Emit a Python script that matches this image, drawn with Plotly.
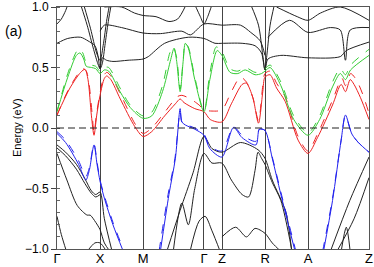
import plotly.graph_objects as go

# high-symmetry path
kpt_pos = [0, 1, 2, 3.414, 3.833, 4.833, 5.833, 7.247]
kpt_labels = ["Γ", "X", "M", "Γ", "Z", "R", "A", "Z"]

# coloured bands (solid = one calc, dashed = other)
red_k = [0, 0.3, 0.55, 0.65, 0.72, 0.8, 0.86, 0.92, 1.0, 1.1, 1.155, 1.25, 1.47, 1.81, 2.0, 2.2, 2.5, 2.75, 2.86, 2.95,
         3.2, 3.414, 3.56, 3.83, 4.05, 4.3, 4.4, 4.55, 4.68, 4.78, 4.83, 4.95, 5.1, 5.3, 5.6, 5.83, 6.05, 6.4, 6.6,
         6.7, 6.81, 6.9, 7.05, 7.247]
red_e = [0.107, 0.33, 0.46, 0.485, 0.4, 0.1, -0.06, 0.1, 0.27, 0.41, 0.43, 0.4, 0.24, 0.01, -0.07, -0.03, 0.1, 0.2,
         0.24, 0.21, 0.16, 0.135, 0.07, 0.05, 0.2, 0.36, 0.37, 0.25, 0.04, 0.3, 0.42, 0.44, 0.33, 0.22, -0.1, -0.21,
         -0.08, 0.19, 0.36, 0.3, 0.4, 0.36, 0.25, 0.07]
red_d_k = [0, 0.3, 0.6, 0.68, 0.75, 0.82, 0.86, 0.92, 1.0, 1.1, 1.16, 1.27, 1.5, 1.82, 2.0, 2.2, 2.5, 2.8, 2.9, 3.1,
           3.3, 3.414, 3.6, 3.83, 4.05, 4.26, 4.4, 4.55, 4.68, 4.78, 4.83, 4.95, 5.1, 5.3, 5.6, 5.83, 6.05, 6.4,
           6.62, 6.7, 6.82, 6.95, 7.1, 7.247]
red_d_e = [0.107, 0.34, 0.49, 0.47, 0.35, 0.1, -0.04, 0.12, 0.29, 0.44, 0.46, 0.42, 0.26, 0.03, -0.045, 0.0, 0.13,
           0.26, 0.27, 0.24, 0.19, 0.15, 0.14, 0.15, 0.3, 0.42, 0.38, 0.25, 0.06, 0.35, 0.45, 0.47, 0.37, 0.26,
           -0.07, -0.19, -0.05, 0.23, 0.41, 0.35, 0.45, 0.4, 0.28, 0.12]

green_k = [0, 0.25, 0.45, 0.535, 0.62, 0.68, 0.8, 0.9, 1.0, 1.1, 1.2, 1.465, 1.7, 2.0, 2.2, 2.45, 2.63, 2.72, 2.78,
           2.86, 2.93, 2.98, 3.05, 3.2, 3.414, 3.55, 3.72, 3.83, 4.02, 4.2, 4.37, 4.6, 4.75, 4.83, 4.95, 5.2, 5.5,
           5.83, 6.1, 6.4, 6.58, 6.7, 6.82, 7.247]
green_e = [0.135, 0.42, 0.6, 0.62, 0.57, 0.51, 0.5, 0.49, 0.45, 0.48, 0.47, 0.3, 0.17, 0.08, 0.1, 0.3, 0.55, 0.66,
           0.55, 0.3, 0.55, 0.7, 0.66, 0.4, 0.135, 0.4, 0.64, 0.6, 0.46, 0.45, 0.48, 0.44, 0.45, 0.47, 0.5, 0.35,
           0.07, -0.06, 0.07, 0.34, 0.45, 0.4, 0.48, 0.6]
green_d_k = [0, 0.25, 0.45, 0.52, 0.6, 0.68, 0.8, 0.9, 1.0, 1.1, 1.2, 1.465, 1.7, 2.0, 2.2, 2.45, 2.62, 2.7, 2.78,
             2.86, 2.93, 2.98, 3.05, 3.2, 3.414, 3.55, 3.7, 3.83, 4.02, 4.2, 4.37, 4.6, 4.75, 4.83, 4.95, 5.2, 5.5,
             5.83, 6.1, 6.4, 6.58, 6.7, 6.82, 7.247]
green_d_e = [0.135, 0.45, 0.63, 0.655, 0.62, 0.54, 0.52, 0.51, 0.47, 0.5, 0.5, 0.33, 0.19, 0.1, 0.13, 0.35, 0.62,
             0.67, 0.58, 0.32, 0.56, 0.7, 0.67, 0.42, 0.14, 0.45, 0.67, 0.63, 0.49, 0.47, 0.5, 0.46, 0.47, 0.49,
             0.52, 0.38, 0.1, -0.04, 0.1, 0.38, 0.49, 0.44, 0.52, 0.65]

blue_k = [0, 0.2, 0.5, 0.67, 0.75, 0.86, 0.93, 1.0, 1.1, 1.3, 1.54, None, 2.4, 2.6, 2.75, 2.86, 2.9, 2.98, 3.2,
          3.414, 3.55, 3.83, 4.1, 4.3, 4.62, 4.7, 4.83, 5.0, 5.2, 5.53, None, 6.19, 6.4, 6.6, 6.7, 6.85, 7.0, 7.247]
blue_e = [-0.045, -0.12, -0.3, -0.43, -0.35, -0.14, -0.3, -0.44, -0.58, -0.8, -1.02, None, -1.02, -0.55, -0.25,
          0.16, 0.05, 0.025, -0.01, -0.06, -0.17, -0.24, 0.005, -0.08, -0.14, -0.01, -0.02, -0.25, -0.55, -1.02,
          None, -1.02, -0.6, -0.1, 0.107, -0.05, -0.12, -0.2]
blue_d_k = [0, 0.2, 0.5, 0.67, 0.75, 0.86, 0.93, 1.0, 1.1, 1.3, 1.56, None, 2.37, 2.58, 2.74, 2.86, 2.9, 2.98, 3.2,
            3.414, 3.55, 3.83, 4.1, 4.3, 4.62, 4.7, 4.83, 5.0, 5.2, 5.55, None, 6.17, 6.4, 6.6, 6.7, 6.85, 7.0, 7.247]
blue_d_e = [-0.03, -0.1, -0.27, -0.4, -0.33, -0.13, -0.28, -0.43, -0.56, -0.78, -1.02, None, -1.02, -0.55, -0.25,
            0.14, 0.05, 0.03, 0.0, -0.05, -0.15, -0.19, 0.01, -0.06, -0.11, -0.01, -0.02, -0.24, -0.53, -1.02,
            None, -1.02, -0.58, -0.1, 0.1, -0.05, -0.12, -0.2]

# black bands
blk_a_k = [0, 0.1, 0.2, 0.28]
blk_a_e = [0.86, 0.9, 0.97, 1.05]
blk_b_k = [0, 0.25, 0.55, 0.72, 0.88, 0.95, 1.0, 1.05, 1.15, 1.3, 1.65, 2.0, 2.12, 2.5, 3.05, 3.414, 3.67, 3.83,
           4.3, 4.6, 4.75, 4.83, 4.9, 5.2, 5.83, 6.58, 6.72, 7.247]
blk_b_e = [0.7, 0.74, 0.75, 0.72, 0.68, 0.6, 0.49, 0.58, 0.56, 0.55, 0.56, 0.57, 0.59, 0.7, 0.75, 0.74, 0.7, 0.7,
           0.7, 0.68, 0.62, 0.48, 0.57, 0.6, 0.58, 0.59, 0.64, 0.71]
blk_c_k = [0.55, 0.7, 0.85, 0.95, 1.0, 1.05, 1.12, 1.2, 1.26]
blk_c_e = [1.02, 0.85, 0.65, 0.53, 0.49, 0.53, 0.7, 0.9, 1.02]
blk_d_k = [0.62, 0.78, 0.92, 1.0, 1.08, 1.15, 1.22]
blk_d_e = [1.02, 0.82, 0.62, 0.56, 0.7, 0.88, 1.02]
blk_e_k = [1.0, 1.1, 1.5, 2.0, 2.4, 2.9, 3.1, 3.414, 3.83, 4.26, 4.5, 4.72, 4.83]
blk_e_e = [0.8, 0.85, 0.83, 0.785, 0.78, 0.8, 0.77, 0.86, 0.85, 0.85, 0.79, 0.72, 0.6]
blk_f_k = [1.1, 1.5, 1.8, 2.0, 2.3, 2.6, 2.8, 3.0]
blk_f_e = [1.0, 1.0, 0.95, 0.93, 0.92, 0.88, 0.9, 1.02]
blk_g_k = [3.2, 3.33, 3.414, 3.5, 3.6]
blk_g_e = [1.02, 0.92, 0.86, 0.92, 1.02]
blk_h_k = [4.5, 4.68, 4.78, 4.83, 4.88, 4.95, 5.05]
blk_h_e = [1.02, 0.85, 0.6, 0.48, 0.62, 0.85, 1.02]
blk_i_k = [4.9, 5.4, 5.83, 6.35, 6.58, 6.7, 6.81, 7.247]
blk_i_e = [0.75, 0.89, 0.79, 0.83, 0.81, 0.56, 0.81, 0.83]
blk_j_k = [5.1, 5.58, 5.83, 6.12, 6.58, 7.247]
blk_j_e = [1.0, 0.92, 0.89, 0.95, 1.0, 0.89]

blk_l1_k = [0, 0.2, 0.45, 0.65, 0.8, 0.9, 1.0, 1.1, 1.28]
blk_l1_e = [-0.14, -0.2, -0.3, -0.42, -0.52, -0.55, -0.53, -0.75, -1.02]
blk_l2_k = [0, 0.2, 0.45, 0.65, 0.8, 0.9, 1.0]
blk_l2_e = [-0.165, -0.23, -0.34, -0.46, -0.54, -0.57, -0.55]
blk_l3_k = [0, 0.23, 0.47, 0.7, 0.77, 0.9, 1.0, 1.1, 1.23]
blk_l3_e = [-0.21, -0.43, -0.64, -0.72, -0.72, -0.78, -0.84, -0.95, -1.02]
blk_l4_k = [0, 0.1, 0.22]
blk_l4_e = [-0.73, -0.88, -1.02]
blk_l5_k = [0.7, 0.88, 1.0, 1.15]
blk_l5_e = [-1.02, -0.95, -0.95, -1.02]
blk_l6_k = [2.55, 2.86, 3.16, 3.414, 3.6, 3.83, 4.26, 4.67, 4.83, 5.0, 5.32, 5.45]
blk_l6_e = [-1.02, -0.68, -0.37, -0.07, -0.17, -0.2, -0.12, -0.18, -0.25, -0.43, -0.7, -1.02]
blk_l7_k = [2.7, 2.9, 3.05, 3.2, 3.414, 3.6, 3.83, 4.05, 4.3, 4.45, 4.6, 4.67, 4.75, 4.83, 5.0, 5.2, 5.45]
blk_l7_e = [-1.02, -0.62, -0.8, -0.5, -0.21, -0.29, -0.29, -0.43, -0.55, -0.57, -0.35, -0.2, -0.25, -0.3, -0.45, -0.6, -1.0]
blk_l8_k = [3.09, 3.3, 3.44, 3.6, 3.79]
blk_l8_e = [-1.02, -0.77, -0.73, -0.85, -1.02]
blk_l9_k = [3.83, 4.15, 4.4, 4.6, 4.83, 5.0, 5.2]
blk_l9_e = [-0.9, -0.82, -0.9, -0.83, -0.87, -0.95, -1.02]
blk_l10_k = [6.35, 6.8, 7.247]
blk_l10_e = [-1.02, -0.6, -0.24]
blk_l11_k = [6.5, 6.9, 7.247]
blk_l11_e = [-1.02, -0.75, -0.41]
blk_l12_k = [6.6, 6.72, 6.81]
blk_l12_e = [-1.02, -0.82, -1.02]

black_bands = [
    (blk_a_k, blk_a_e), (blk_b_k, blk_b_e), (blk_c_k, blk_c_e), (blk_d_k, blk_d_e), (blk_e_k, blk_e_e),
    (blk_f_k, blk_f_e), (blk_g_k, blk_g_e), (blk_h_k, blk_h_e), (blk_i_k, blk_i_e), (blk_j_k, blk_j_e),
    (blk_l1_k, blk_l1_e), (blk_l2_k, blk_l2_e), (blk_l3_k, blk_l3_e), (blk_l4_k, blk_l4_e),
    (blk_l5_k, blk_l5_e), (blk_l6_k, blk_l6_e), (blk_l7_k, blk_l7_e), (blk_l8_k, blk_l8_e),
    (blk_l9_k, blk_l9_e), (blk_l10_k, blk_l10_e), (blk_l11_k, blk_l11_e), (blk_l12_k, blk_l12_e),
]

fig = go.Figure()

for kk, ee in black_bands:
    fig.add_trace(go.Scatter(x=kk, y=ee, mode="lines", line=dict(color="#222", width=1, shape="spline", smoothing=0.8),
                             hoverinfo="skip"))

colored = [
    (red_d_k, red_d_e, "#ee2222", "dash"), (red_k, red_e, "#ee2222", "solid"),
    (green_d_k, green_d_e, "#33cc33", "dash"), (green_k, green_e, "#33cc33", "solid"),
    (blue_d_k, blue_d_e, "#2222ee", "dash"), (blue_k, blue_e, "#2222ee", "solid"),
]
for kk, ee, col, dash in colored:
    fig.add_trace(go.Scatter(x=kk, y=ee, mode="lines",
                             line=dict(color=col, width=1, dash=dash, shape="spline", smoothing=0.8),
                             hoverinfo="skip"))

# Fermi level
fig.add_hline(y=0, line=dict(color="#222", width=1, dash="7px,4px"))

fig.update_layout(
    width=374,
    height=267,
    margin=dict(l=57, r=5, t=7, b=18, autoexpand=False),
    plot_bgcolor="white",
    paper_bgcolor="white",
    showlegend=False,
    font=dict(family="Liberation Sans, Arial", color="black", size=12),
    xaxis=dict(
        range=[0, 7.247],
        tickvals=kpt_pos,
        ticktext=kpt_labels,
        showgrid=True,
        gridcolor="#444",
        gridwidth=1,
        zeroline=False,
        showline=True,
        linecolor="#555",
        mirror=True,
        ticks="",
        ticklabelstandoff=-3,
        tickfont=dict(size=13),
        automargin=False,
    ),
    yaxis=dict(
        range=[-1, 1],
        tickvals=[-1, -0.5, 0, 0.5, 1],
        tickformat=".1f",
        showgrid=False,
        zeroline=False,
        showline=True,
        linecolor="#555",
        mirror=True,
        ticks="outside",
        ticklen=5,
        tickcolor="#444",
        minor=dict(ticks="inside", dtick=0.1, ticklen=3, tickcolor="#666"),
        tickfont=dict(size=12),
        automargin=False,
    ),
    annotations=[
        dict(text="(a)", x=-0.138, y=0.90, xref="paper", yref="paper", showarrow=False,
             xanchor="center", yanchor="middle", font=dict(size=14)),
        dict(text="Energy (eV)", x=-0.128, y=0.5, xref="paper", yref="paper", showarrow=False,
             textangle=-90, xanchor="center", yanchor="middle", font=dict(size=11)),
    ],
)

# the page's default body margin would shift the figure by 8px
fig.write_html("out.html", config={"displayModeBar": False},
               post_script="document.body.style.margin='0';")
